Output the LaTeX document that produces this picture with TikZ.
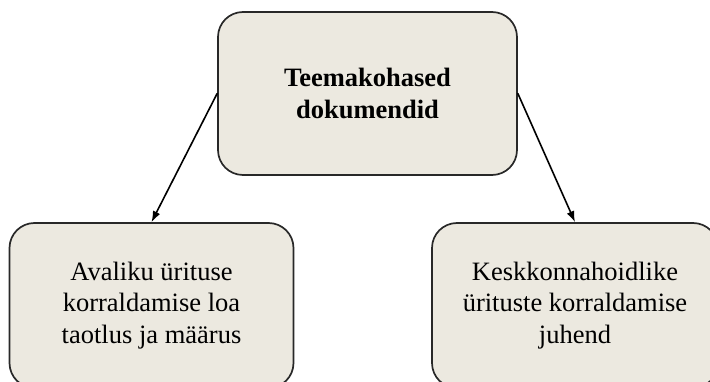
\documentclass[tikz,border=0pt]{standalone}
\usepackage{fontspec}
\setmainfont{Liberation Serif}
\usepackage{tikz}
\usetikzlibrary{arrows.meta}

\begin{document}
\begin{tikzpicture}
		[x=1pt,y=-1pt,line cap=round,
		%Styles
		doc box/.style={draw=boxline,fill=boxfill,line width=1.7pt,rounded corners=25pt,
			align=center,inner sep=0pt,font=\fontsize{26.5}{31.5}\selectfont},
		link/.style={line width=1.6pt,-{Latex[length=11pt,width=8pt]}}
		]
		
		%Colors
		\definecolor{boxfill}{RGB}{236,233,224}	%box filling
		\definecolor{boxline}{RGB}{40,40,40}	%box outline
		
		%The graphic
		\useasboundingbox (0,0) rectangle (710,382);
		\clip (0,0) rectangle (710,382);
		
		\node[doc box,minimum width=299pt,minimum height=163pt] (topic) at (367.5,93.5)
			{\bfseries Teemakohased\\\bfseries dokumendid};
		\node[doc box,minimum width=284pt,minimum height=165pt] (permit) at (151.5,305.5)
			{Avaliku \"urituse\\korraldamise loa\\taotlus ja m\"a\"arus};
		\node[doc box,minimum width=286pt,minimum height=165pt] (guide) at (575,305.5)
			{Keskkonnahoidlike\\\"urituste korraldamise\\juhend};
		
		\draw[link] (topic.west) -- (permit.north);
		\draw[link] (topic.east) -- (guide.north);
	\end{tikzpicture}
\end{document}
